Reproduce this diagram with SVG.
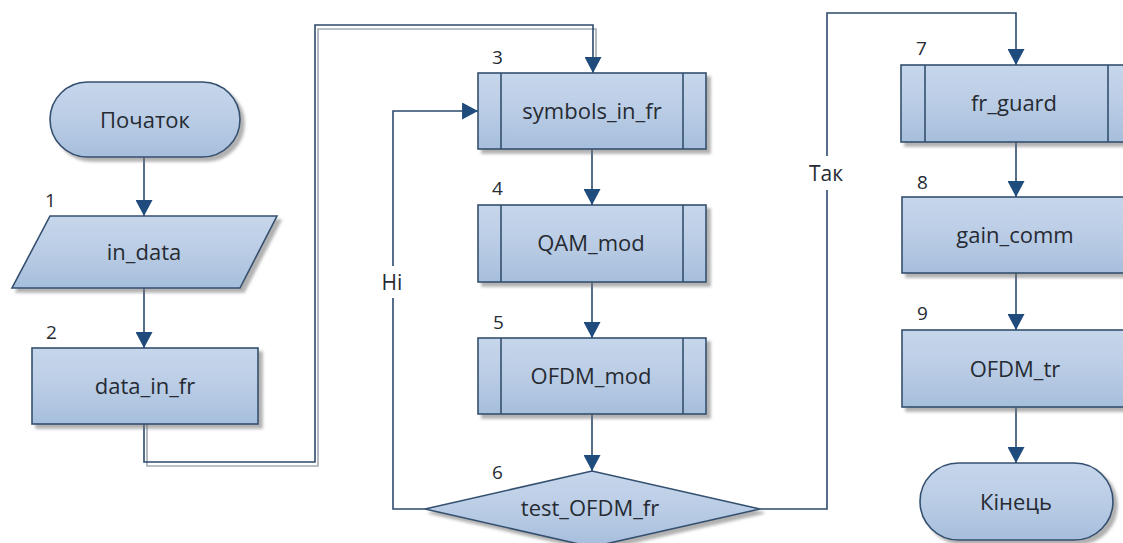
<svg xmlns="http://www.w3.org/2000/svg" width="1123" height="543" viewBox="0 0 1123 543">
<defs>
<linearGradient id="g" x1="0" y1="0" x2="0" y2="1">
<stop offset="0" stop-color="#c6d6eb"/>
<stop offset="0.45" stop-color="#bccee6"/>
<stop offset="1" stop-color="#a6bedc"/>
</linearGradient>
<filter id="sh" x="-10%" y="-10%" width="130%" height="140%">
<feDropShadow dx="4" dy="4" stdDeviation="1.5" flood-color="#6f6f6f" flood-opacity="0.55"/>
</filter>
<marker id="ar" markerUnits="userSpaceOnUse" markerWidth="17" markerHeight="17" refX="15" refY="8" orient="auto" viewBox="0 0 15 16">
<path d="M0,0 L15,8 L0,16 z" fill="#1f4c7c"/>
</marker>
</defs>
<style>
.s{fill:url(#g);stroke:#34506f;stroke-width:1.6;filter:url(#sh)}
.in{fill:none;stroke:#34506f;stroke-width:1.6}
.c{fill:none;stroke:#2c4a6b;stroke-width:1.6}
.cg{fill:none;stroke:#a3abb5;stroke-width:1.6}
.t{font-family:"Open Sans","Noto Sans",sans-serif;font-size:22px;fill:#262b33;text-anchor:middle;dominant-baseline:central}
.n{font-family:"Open Sans","Noto Sans",sans-serif;font-size:19px;fill:#262b33}
.l{font-family:"Open Sans","Noto Sans",sans-serif;font-size:21px;fill:#262b33;text-anchor:middle;dominant-baseline:central}
</style>
<rect width="1123" height="543" fill="#ffffff"/>

<g id="connectors">
<path class="c" d="M144,157 V216" marker-end="url(#ar)"/>
<path class="c" d="M144,288 V348" marker-end="url(#ar)"/>
<path class="cg" d="M147,424 V466 H318 V29 H596 V62"/>
<path class="c" d="M144,424 V462 H315 V25 H593 V73" marker-end="url(#ar)"/>
<path class="c" d="M592,149 V205" marker-end="url(#ar)"/>
<path class="c" d="M592,282 V338" marker-end="url(#ar)"/>
<path class="c" d="M592,414 V471" marker-end="url(#ar)"/>
<path class="c" d="M425,509 H393 V298"/>
<path class="c" d="M393,266 V111 H478" marker-end="url(#ar)"/>
<path class="c" d="M760,509 H827 V190"/>
<path class="c" d="M827,156 V13 H1016 V65" marker-end="url(#ar)"/>
<path class="c" d="M1016,142 V197" marker-end="url(#ar)"/>
<path class="c" d="M1016,273 V330" marker-end="url(#ar)"/>
<path class="c" d="M1016,407 V463" marker-end="url(#ar)"/>
<text class="l" x="392" y="282">Ні</text>
<text class="l" x="826" y="173">Так</text>
</g>

<g id="start">
<rect class="s" x="50" y="82" width="190" height="75" rx="37.5" ry="37.5"/>
<text class="t" x="145" y="119">Початок</text>
</g>

<g id="n1">
<polygon class="s" points="50,216 277,216 240,288 12,288"/>
<text class="n" x="45" y="207">1</text>
<text class="t" x="144" y="251">in_data</text>
</g>

<g id="n2">
<rect class="s" x="32" y="348" width="226" height="76"/>
<text class="n" x="46" y="339">2</text>
<text class="t" x="145" y="385">data_in_fr</text>
</g>

<g id="n3">
<rect class="s" x="478" y="73" width="228" height="76"/>
<path class="in" d="M501,73 V149 M683,73 V149"/>
<text class="n" x="492" y="64">3</text>
<text class="t" x="592" y="110">symbols_in_fr</text>
</g>

<g id="n4">
<rect class="s" x="478" y="205" width="228" height="77"/>
<path class="in" d="M501,205 V282 M683,205 V282"/>
<text class="n" x="492" y="195">4</text>
<text class="t" x="591" y="242">QAM_mod</text>
</g>

<g id="n5">
<rect class="s" x="478" y="338" width="228" height="76"/>
<path class="in" d="M501,338 V414 M683,338 V414"/>
<text class="n" x="493" y="329">5</text>
<text class="t" x="591" y="375">OFDM_mod</text>
</g>

<g id="n6">
<polygon class="s" points="425,509 592,471 760,509 592,547"/>
<text class="n" x="492" y="479">6</text>
<text class="t" x="590" y="507">test_OFDM_fr</text>
</g>

<g id="n7">
<rect class="s" x="901" y="65" width="230" height="77"/>
<path class="in" d="M925,65 V142 M1108,65 V142"/>
<text class="n" x="916" y="55">7</text>
<text class="t" x="1014" y="102">fr_guard</text>
</g>

<g id="n8">
<rect class="s" x="902" y="197" width="229" height="76"/>
<text class="n" x="917" y="189">8</text>
<text class="t" x="1015" y="234">gain_comm</text>
</g>

<g id="n9">
<rect class="s" x="902" y="330" width="229" height="77"/>
<text class="n" x="917" y="320">9</text>
<text class="t" x="1015" y="368">OFDM_tr</text>
</g>

<g id="end">
<rect class="s" x="920" y="463" width="193" height="77" rx="38.5" ry="38.5"/>
<text class="t" x="1016" y="501">Кінець</text>
</g>
</svg>
